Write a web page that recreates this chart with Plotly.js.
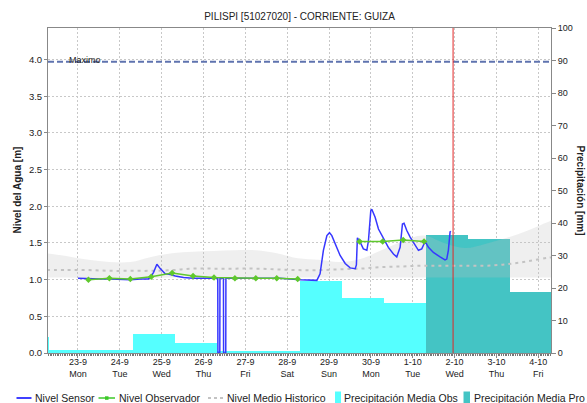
<!DOCTYPE html>
<html><head><meta charset="utf-8">
<script src="https://cdn.plot.ly/plotly-3.0.1.min.js"></script>
<style>html,body{margin:0;padding:0;background:#fff}#chart{width:587px;height:403px}</style>
</head><body><div id="chart"></div>
<script>
// ---------- data ----------
const sensorTime = ['2024-09-23 00:00','2024-09-23 07:00','2024-09-23 13:00','2024-09-23 18:30','2024-09-24 06:00','2024-09-24 12:00','2024-09-24 16:20','2024-09-24 17:30','2024-09-24 19:20','2024-09-24 21:15','2024-09-24 23:10','2024-09-25 02:00','2024-09-25 05:00','2024-09-25 07:50','2024-09-25 12:30','2024-09-25 18:00','2024-09-26 02:00','2024-09-26 08:10','2024-09-26 08:15','2024-09-26 09:20','2024-09-26 09:25','2024-09-26 11:25','2024-09-26 11:30','2024-09-26 12:45','2024-09-26 12:50','2024-09-26 21:00','2024-09-27 08:30','2024-09-27 20:00','2024-09-28 07:30','2024-09-28 17:00','2024-09-28 18:50','2024-09-28 20:45','2024-09-28 22:45','2024-09-29 00:15','2024-09-29 01:35','2024-09-29 03:30','2024-09-29 06:20','2024-09-29 09:15','2024-09-29 12:05','2024-09-29 15:00','2024-09-29 15:40','2024-09-29 16:15','2024-09-29 17:50','2024-09-29 19:40','2024-09-29 21:40','2024-09-29 22:35','2024-09-29 23:55','2024-09-30 00:30','2024-09-30 02:25','2024-09-30 04:20','2024-09-30 07:10','2024-09-30 10:00','2024-09-30 12:55','2024-09-30 14:50','2024-09-30 16:45','2024-09-30 18:05','2024-09-30 19:00','2024-09-30 20:35','2024-09-30 22:30','2024-10-01 01:20','2024-10-01 03:15','2024-10-01 05:10','2024-10-01 07:05','2024-10-01 09:00','2024-10-01 11:50','2024-10-01 15:40','2024-10-01 18:30','2024-10-01 19:30','2024-10-01 20:25','2024-10-01 21:25','2024-10-01 21:50'];
const sensorLevel = [1.02,1.01,1.01,1.01,1.00,1.01,1.01,1.03,1.10,1.21,1.15,1.08,1.07,1.05,1.03,1.02,1.02,1.02,0.00,0.00,1.02,1.02,0.00,0.00,1.02,1.02,1.01,1.02,1.00,0.99,1.08,1.40,1.60,1.64,1.60,1.49,1.33,1.22,1.16,1.15,1.20,1.57,1.51,1.42,1.40,1.53,1.94,1.96,1.85,1.69,1.56,1.44,1.35,1.31,1.44,1.76,1.77,1.67,1.58,1.47,1.40,1.42,1.52,1.44,1.37,1.31,1.27,1.28,1.40,1.65,1.66];

const obsTime = ['2024-09-23 06:00','2024-09-23 18:00','2024-09-24 06:00','2024-09-24 18:00','2024-09-25 06:00','2024-09-25 18:00','2024-09-26 06:00','2024-09-26 18:00','2024-09-27 06:00','2024-09-27 18:00','2024-09-28 06:00','2024-09-29 00:00','2024-09-29 17:30','2024-09-30 06:45','2024-09-30 18:30','2024-10-01 06:30'];
const obsLevel = [1.00,1.02,1.01,1.04,1.09,1.05,1.03,1.02,1.02,1.02,1.01,null,1.52,1.52,1.54,1.52];

const histTime = ['2024-09-22 06:00','2024-09-22 18:00','2024-09-23 06:00','2024-09-23 18:00','2024-09-24 06:00','2024-09-24 18:00','2024-09-25 06:00','2024-09-25 18:00','2024-09-26 06:00','2024-09-26 18:00','2024-09-27 06:00','2024-09-27 18:00','2024-09-28 06:00','2024-09-28 18:00','2024-09-29 06:00','2024-09-29 18:00','2024-09-30 06:00','2024-09-30 18:00','2024-10-01 06:00','2024-10-01 18:00','2024-10-02 06:00','2024-10-02 18:00','2024-10-03 06:00','2024-10-03 18:00','2024-10-04 06:00','2024-10-04 12:00'];
const histMax  = [1.36,1.32,1.27,1.24,1.24,1.31,1.36,1.38,1.39,1.40,1.40,1.36,1.29,1.27,1.24,1.28,1.40,1.52,1.60,1.50,1.43,1.49,1.57,1.67,1.79,1.83];
const histMin  = [1.03,1.03,1.02,1.02,1.02,1.02,1.03,1.03,1.03,1.03,1.03,1.03,1.03,1.03,1.03,1.03,1.03,1.03,1.03,1.03,1.03,1.03,1.03,1.03,1.03,1.03];
const histMean = [1.13,1.13,1.13,1.12,1.12,1.12,1.13,1.15,1.15,1.15,1.15,1.14,1.13,1.13,1.14,1.15,1.17,1.18,1.19,1.19,1.19,1.19,1.21,1.25,1.30,1.31];

const precipObsStart = ['2024-09-21 07:30','2024-09-22 07:30','2024-09-23 07:30','2024-09-24 07:30','2024-09-25 07:30','2024-09-26 07:30','2024-09-27 07:30','2024-09-28 07:30','2024-09-29 07:30','2024-09-30 07:30'];
const precipObs = [4.8,1.0,1.0,6.0,3.0,0.7,0.7,22.3,17.0,15.3];
const precipProStart = ['2024-10-01 07:30','2024-10-02 07:30','2024-10-03 07:30'];
const precipPro = [36.4,35.2,18.9];

const tickDays = ['2024-09-23','2024-09-24','2024-09-25','2024-09-26','2024-09-27','2024-09-28','2024-09-29','2024-09-30','2024-10-01','2024-10-02','2024-10-03','2024-10-04'];
const tickLabels = ['23-9<br>Mon','24-9<br>Tue','25-9<br>Wed','26-9<br>Thu','27-9<br>Fri','28-9<br>Sat','29-9<br>Sun','30-9<br>Mon','1-10<br>Tue','2-10<br>Wed','3-10<br>Thu','4-10<br>Fri'];

const maximo = 3.97;
const nowTime = '2024-10-01 23:07';
const xStart = '2024-09-22 06:48', xEnd = '2024-10-04 07:17';

const legendNames = ['Nivel Sensor','Nivel Observador','Nivel Medio Historico','Precipitación Media Obs','Precipitación Media Pro'];

// ---------- styles ----------
const DAY = 86400000;
const FONT = 'Liberation Sans, Arial, sans-serif';
const C_SENSOR = 'rgb(55,55,255)', C_OBS = 'rgb(95,200,45)', C_HIST = 'rgb(195,195,195)';
const C_POBS = 'rgb(85,255,255)', C_PPRO = 'rgb(68,196,196)';
const PL = 48, PR = 551, PT = 28, PB = 353;
const px = v => (v - PL) / (PR - PL);
const py = v => (PB - v) / (PB - PT);

const traces = [
  {type:'bar', x:precipObsStart, y:precipObs, width:DAY, offset:0, xaxis:'x', yaxis:'y',
   marker:{color:C_POBS, line:{width:0}}, name:legendNames[3]},
  {type:'bar', x:precipProStart, y:precipPro, width:DAY, offset:0, xaxis:'x', yaxis:'y',
   marker:{color:C_PPRO, line:{width:0}}, name:legendNames[4]},
  {type:'scatter', mode:'lines', x:histTime, y:histMin, yaxis:'y2', line:{width:0, shape:'spline'}, hoverinfo:'skip'},
  {type:'scatter', mode:'lines', x:histTime, y:histMax, yaxis:'y2', line:{width:0, shape:'spline'}, fill:'tonexty', fillcolor:'rgba(190,190,190,0.25)', hoverinfo:'skip'},
  {type:'scatter', mode:'lines', x:histTime, y:histMean, yaxis:'y2', line:{width:2, color:C_HIST, dash:'3px,4px', shape:'spline'}, name:legendNames[2]},
  {type:'scatter', mode:'lines', x:sensorTime, y:sensorLevel, yaxis:'y2', line:{width:1.5, color:C_SENSOR}, name:legendNames[0]},
  {type:'scatter', mode:'lines+markers', x:obsTime, y:obsLevel, yaxis:'y2', connectgaps:false,
   line:{width:1.5, color:C_OBS}, marker:{symbol:'diamond', size:5, color:C_OBS}, name:legendNames[1]}
];

const shapes = [
  {type:'line', xref:'paper', x0:0, x1:1, yref:'y2', y0:maximo, y1:maximo, line:{color:'rgb(95,115,175)', width:2, dash:'6px,3px'}},
  {type:'line', xref:'x', x0:nowTime, x1:nowTime, yref:'paper', y0:0, y1:1, line:{color:'rgb(225,40,40)', width:1}},
  // custom legend symbols
  {type:'line', xref:'paper', yref:'paper', x0:px(16.5), x1:px(31.5), y0:py(398), y1:py(398), line:{color:'rgb(0,0,255)', width:1.5}},
  {type:'line', xref:'paper', yref:'paper', x0:px(98.5), x1:px(115), y0:py(398), y1:py(398), line:{color:'rgb(60,200,40)', width:1.5}},
  {type:'rect', xref:'paper', yref:'paper', x0:px(105), x1:px(108.5), y0:py(396.3), y1:py(399.8), line:{width:0}, fillcolor:'rgb(60,200,40)'},
  {type:'line', xref:'paper', yref:'paper', x0:px(208), x1:px(223), y0:py(398), y1:py(398), line:{color:C_HIST, width:2, dash:'3px,3px'}},
  {type:'rect', xref:'paper', yref:'paper', x0:px(335), x1:px(341), y0:py(391.5), y1:py(404), line:{width:0}, fillcolor:C_POBS},
  {type:'rect', xref:'paper', yref:'paper', x0:px(463.5), x1:px(470), y0:py(391.5), y1:py(404), line:{width:0}, fillcolor:C_PPRO}
];

const legendX = [33.5, 118, 226, 342.5, 472.5];
const annotations = legendNames.map((t,i) => ({
  text:t, xref:'paper', yref:'paper', x:px(legendX[i]), y:py(398), xanchor:'left', yanchor:'middle',
  showarrow:false, font:{family:FONT, size:10.5, color:'#222'}, borderpad:0
}));
annotations.push(
  {text:'Maximo', xref:'paper', yref:'y2', x:px(67.5), y:maximo, xanchor:'left', yanchor:'bottom', yshift:-4,
   showarrow:false, font:{family:FONT, size:9, color:'#222'}, borderpad:0},
  {text:'Nivel del Agua [m]', xref:'paper', yref:'paper', x:px(17), y:0.5, xanchor:'center', yanchor:'middle', textangle:-90,
   showarrow:false, font:{family:FONT, size:10, color:'#222', weight:'bold'}},
  {text:'Precipitación [mm]', xref:'paper', yref:'paper', x:px(580), y:0.5, xanchor:'center', yanchor:'middle', textangle:90,
   showarrow:false, font:{family:FONT, size:10, color:'#222', weight:'bold'}}
);

const axisCommon = {showline:true, linecolor:'#888', linewidth:1, zeroline:false, ticks:'outside', tickcolor:'#888',
  tickfont:{family:FONT, size:9, color:'#222'}};

const layout = {
  width:587, height:403, paper_bgcolor:'#fff', plot_bgcolor:'#fff',
  margin:{l:PL, r:587-PR, t:PT, b:403-PB, pad:0},
  showlegend:false, barmode:'overlay', bargap:0,
  font:{family:FONT, color:'#222'},
  title:{text:'PILISPI [51027020] - CORRIENTE: GUIZA', font:{family:FONT, size:10, color:'#222'},
         x:0.5, xref:'paper', xanchor:'center', y:1-16/403, yanchor:'middle'},
  xaxis:Object.assign({}, axisCommon, {type:'date', range:[xStart, xEnd], mirror:true,
    tickmode:'array', tickvals:tickDays, ticktext:tickLabels, ticklen:4, ticklabelstandoff:-4,
    showgrid:true, gridcolor:'#c8c8c8', gridwidth:1, griddash:'2px,2px',
    minor:{tickmode:'linear', tick0:'2024-09-22 00:00', dtick:3600000, ticks:'outside', ticklen:2, tickcolor:'#777', tickwidth:1, showgrid:false}}),
  yaxis:Object.assign({}, axisCommon, {side:'right', range:[0,100], dtick:10, tick0:0, ticklen:4,
    showgrid:false, fixedrange:true}),
  yaxis2:Object.assign({}, axisCommon, {overlaying:'y', side:'left', range:[0,4.43], dtick:0.5, tick0:0, tickformat:'.1f', ticklen:3,
    tickfont:{family:FONT, size:9.5, color:'#222'},
    showgrid:true, gridcolor:'#c8c8c8', gridwidth:1, griddash:'2px,2px'}),
  shapes:shapes, annotations:annotations
};

Plotly.newPlot('chart', traces, layout, {staticPlot:true, displayModeBar:false});
</script>
</body></html>
